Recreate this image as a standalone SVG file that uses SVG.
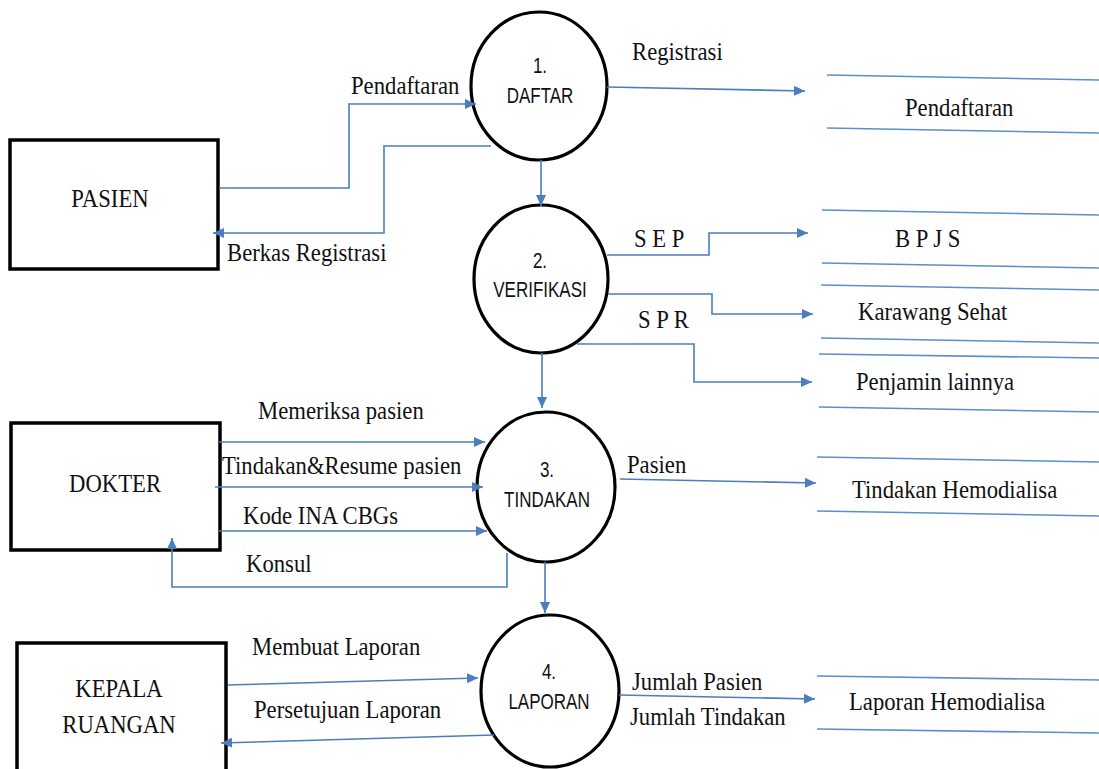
<svg xmlns="http://www.w3.org/2000/svg" width="1099" height="769" viewBox="0 0 1099 769">
<defs>
<marker id="arr" markerUnits="userSpaceOnUse" markerWidth="12" markerHeight="10" refX="11" refY="5" orient="auto">
<path d="M0,0 L11,5 L0,10 z" fill="#4a7ebf"/>
</marker>
<style>
.flow{fill:none;stroke:#4a7ebf;stroke-width:1.6;marker-end:url(#arr)}
.store{fill:none;stroke:#5b8ed0;stroke-width:1.6}
.proc{fill:#fff;stroke:#000;stroke-width:3.2}
.ent{fill:#fff;stroke:#000;stroke-width:3.5}
.lbl{font-family:"Liberation Sans",Arial,sans-serif;font-size:22.7px;fill:#111}
.lbl{font-family:"Liberation Serif","Times New Roman",serif}
.ptx{font-family:"Liberation Sans",Arial,sans-serif;font-size:17px;fill:#111;text-anchor:middle}
</style>
</defs>
<rect width="1099" height="769" fill="#fff"/>

<g id="pasien">
<rect class="ent" x="10" y="140" width="208" height="129"/>
<text class="lbl" transform="translate(110,207) scale(1,1.15)" text-anchor="middle">PASIEN</text>
</g>
<g id="dokter">
<rect class="ent" x="11" y="423" width="209" height="127"/>
<text class="lbl" transform="translate(115,492) scale(1,1.15)" text-anchor="middle">DOKTER</text>
</g>
<g id="kepala-ruangan">
<rect class="ent" x="17" y="643" width="209" height="140"/>
<text class="lbl" transform="translate(119,697) scale(1,1.15)" text-anchor="middle">KEPALA</text>
<text class="lbl" transform="translate(119,733) scale(1,1.15)" text-anchor="middle">RUANGAN</text>
</g>

<g id="p1">
<ellipse class="proc" cx="539" cy="86" rx="68" ry="74"/>
<text class="ptx" transform="translate(540,73) scale(1,1.25)">1.</text>
<text class="ptx" transform="translate(540,103) scale(1,1.25)">DAFTAR</text>
</g>
<g id="p2">
<ellipse class="proc" cx="541" cy="279" rx="67" ry="74"/>
<text class="ptx" transform="translate(540,268) scale(1,1.25)">2.</text>
<text class="ptx" transform="translate(540,297) scale(1,1.25)">VERIFIKASI</text>
</g>
<g id="p3">
<ellipse class="proc" cx="546" cy="487" rx="69" ry="75"/>
<text class="ptx" transform="translate(547,477) scale(1,1.25)">3.</text>
<text class="ptx" transform="translate(547,507) scale(1,1.25)">TINDAKAN</text>
</g>
<g id="p4">
<ellipse class="proc" cx="550" cy="691" rx="69" ry="76"/>
<text class="ptx" transform="translate(549,679) scale(1,1.25)">4.</text>
<text class="ptx" transform="translate(549,709) scale(1,1.25)">LAPORAN</text>
</g>

<g id="ds-pendaftaran">
<line class="store" x1="827" y1="75" x2="1099" y2="80"/>
<line class="store" x1="827" y1="128" x2="1099" y2="133"/>
<text class="lbl" transform="translate(905,116) scale(1,1.15)">Pendaftaran</text>
</g>
<g id="ds-bpjs">
<line class="store" x1="822" y1="210" x2="1099" y2="215"/>
<line class="store" x1="822" y1="263" x2="1099" y2="268"/>
<text class="lbl" transform="translate(895,247) scale(1,1.15)">B P J S</text>
</g>
<g id="ds-karawang">
<line class="store" x1="821" y1="285" x2="1099" y2="290"/>
<line class="store" x1="821" y1="338" x2="1099" y2="343"/>
<text class="lbl" transform="translate(858,320) scale(1,1.15)">Karawang Sehat</text>
</g>
<g id="ds-penjamin">
<line class="store" x1="819" y1="354" x2="1099" y2="358"/>
<line class="store" x1="819" y1="407" x2="1099" y2="412"/>
<text class="lbl" transform="translate(856,390) scale(1,1.15)">Penjamin lainnya</text>
</g>
<g id="ds-tindakan">
<line class="store" x1="817" y1="457" x2="1099" y2="462"/>
<line class="store" x1="817" y1="511" x2="1099" y2="516"/>
<text class="lbl" transform="translate(852,498) scale(1,1.15)">Tindakan Hemodialisa</text>
</g>
<g id="ds-laporan">
<line class="store" x1="817" y1="676" x2="1099" y2="680"/>
<line class="store" x1="817" y1="729" x2="1099" y2="733"/>
<text class="lbl" transform="translate(849,710) scale(1,1.15)">Laporan Hemodialisa</text>
</g>

<g id="connectors">
<polyline class="flow" points="219,188 349,188 349,104 476,104"/>
<polyline class="flow" points="491,146 384,146 384,233 213,233"/>
<line class="flow" x1="607" y1="87" x2="805" y2="91"/>
<line class="flow" x1="541" y1="160" x2="541" y2="206"/>
<polyline class="flow" points="607,255 709,255 709,233 808,233"/>
<polyline class="flow" points="608,294 712,294 712,314 813,314"/>
<polyline class="flow" points="577,344 694,344 694,382 812,382"/>
<line class="flow" x1="542" y1="353" x2="542" y2="408"/>
<line class="flow" x1="219" y1="442" x2="485" y2="442"/>
<line class="flow" x1="215" y1="487" x2="483" y2="487"/>
<line class="flow" x1="219" y1="531" x2="487" y2="531"/>
<polyline class="flow" points="507,553 507,587 172,587 172,538"/>
<line class="flow" x1="545" y1="562" x2="545" y2="613"/>
<line class="flow" x1="620" y1="479" x2="816" y2="483"/>
<line class="flow" x1="228" y1="685" x2="478" y2="678"/>
<line class="flow" x1="494" y1="735" x2="221" y2="743"/>
<line class="flow" x1="619" y1="695" x2="815" y2="699"/>
<text class="lbl" transform="translate(351,94) scale(1,1.15)">Pendaftaran</text>
<text class="lbl" transform="translate(227,261) scale(1,1.15)">Berkas Registrasi</text>
<text class="lbl" transform="translate(632,60) scale(1,1.15)">Registrasi</text>
<text class="lbl" transform="translate(634,247) scale(1,1.15)">S E P</text>
<text class="lbl" transform="translate(638,328) scale(1,1.15)">S P R</text>
<text class="lbl" transform="translate(258,419) scale(1,1.15)">Memeriksa pasien</text>
<text class="lbl" transform="translate(222,474) scale(1,1.15)">Tindakan&amp;Resume pasien</text>
<text class="lbl" transform="translate(243,524) scale(1,1.15)">Kode INA CBGs</text>
<text class="lbl" transform="translate(246,572) scale(1,1.15)">Konsul</text>
<text class="lbl" transform="translate(627,473) scale(1,1.15)">Pasien</text>
<text class="lbl" transform="translate(252,655) scale(1,1.15)">Membuat Laporan</text>
<text class="lbl" transform="translate(254,718) scale(1,1.15)">Persetujuan Laporan</text>
<text class="lbl" transform="translate(632,690) scale(1,1.15)">Jumlah Pasien</text>
<text class="lbl" transform="translate(630,725) scale(1,1.15)">Jumlah Tindakan</text>
</g>
</svg>
